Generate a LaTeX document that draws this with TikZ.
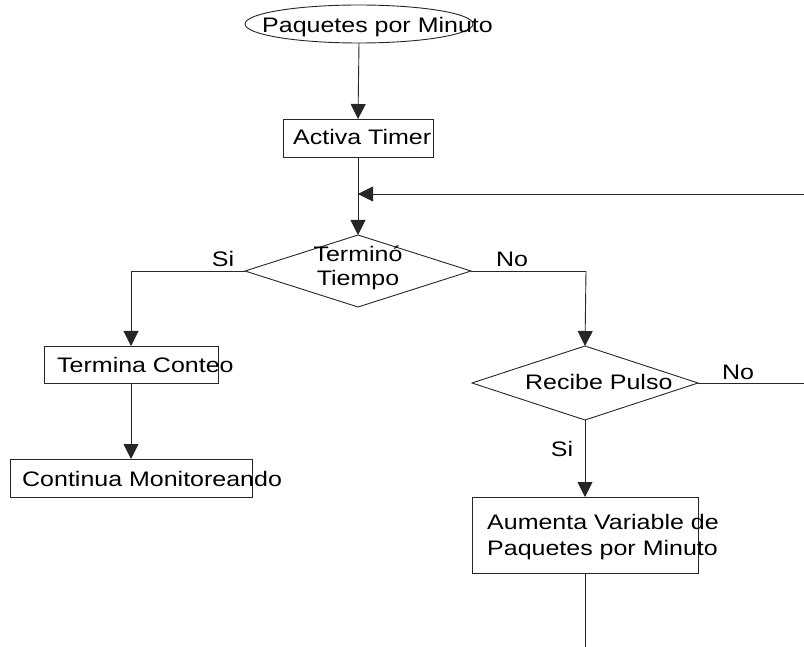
\documentclass[tikz,border=0pt]{standalone}
\usepackage{fontspec}
\setmainfont[FakeStretch=1.19]{Liberation Sans}
\usetikzlibrary{shapes.geometric,arrows.meta}

\tikzset{
  flow/.style={draw=black!85, line width=0.9pt},
  arr/.style={flow, -{Triangle[length=15pt,width=15pt]}},
  shapebox/.style={draw=black!85, line width=0.9pt, rectangle, inner sep=0pt, outer sep=0pt},
  decision/.style={draw=black!85, line width=0.9pt, diamond, inner sep=0pt, outer sep=0pt},
  terminal/.style={draw=black!85, line width=0.9pt, ellipse, inner sep=0pt, outer sep=0pt},
  txt/.style={font=\fontsize{21}{26}\selectfont, inner sep=0pt, anchor=base west},
  lbl/.style={font=\fontsize{21}{26}\selectfont, inner sep=0pt, anchor=base},
}

\begin{document}
\begin{tikzpicture}[x=1pt, y=-1pt]
  \useasboundingbox (0,0) rectangle (804,647);

  % shapes
  \node[terminal, minimum width=228pt, minimum height=38pt] (E) at (359,24) {};
  \node[shapebox, minimum width=150pt, minimum height=38pt] (A) at (358,138) {};
  \node[decision, minimum width=226pt, minimum height=72pt] (T) at (358,271) {};
  \node[shapebox, minimum width=174pt, minimum height=37pt] (TC) at (131,364.5) {};
  \node[shapebox, minimum width=242pt, minimum height=38pt] (CM) at (131,478) {};
  \node[decision, minimum width=226pt, minimum height=74pt] (R) at (585,383) {};
  \node[shapebox, minimum width=226pt, minimum height=76pt] (AV) at (585,535) {};

  % texts (set over the shapes, spilling past their edges)
  \node[txt] (tE) at (262,33) {Paquetes por Minuto};
  \node[txt] (tA) at (293,145) {Activa Timer};
  \node[lbl] (tT1) at (358,262) {Terminó};
  \node[lbl] (tT2) at (358,286) {Tiempo};
  \node[txt] (tTC) at (57,372) {Termina Conteo};
  \node[txt] (tCM) at (22,486) {Continua Monitoreando};
  \node[txt] (tR) at (525,389) {Recibe Pulso};
  \node[txt] (tAV1) at (487,529) {Aumenta Variable de};
  \node[txt] (tAV2) at (487,555) {Paquetes por Minuto};

  % branch labels
  \node[lbl] (siT) at (223,267) {Si};
  \node[lbl] (noT) at (512,267) {No};
  \node[lbl] (noR) at (738,379) {No};
  \node[lbl] (siR) at (562,456) {Si};

  % free ends
  \coordinate (loopin) at (804,194);
  \coordinate (join) at (358,194);
  \coordinate (tL) at (131,271);
  \coordinate (tR) at (586,271);
  \coordinate (rout) at (804,383);
  \coordinate (down) at (585,647);

  % connectors
  \draw[arr] (E.south) -- (A.north);
  \draw[flow] (A.south) -- (join);
  \draw[arr] (join) -- (T.north);
  \draw[arr] (loopin) -- (join);
  \draw[flow] (T.west) -- (tL);
  \draw[arr] (tL) -- (TC.north);
  \draw[arr] (TC.south) -- (CM.north);
  \draw[flow] (T.east) -- (tR);
  \draw[arr] (tR) -- (R.north);
  \draw[flow] (R.east) -- (rout);
  \draw[arr] (R.south) -- (AV.north);
  \draw[flow] (AV.south) -- (down);
\end{tikzpicture}
\end{document}
